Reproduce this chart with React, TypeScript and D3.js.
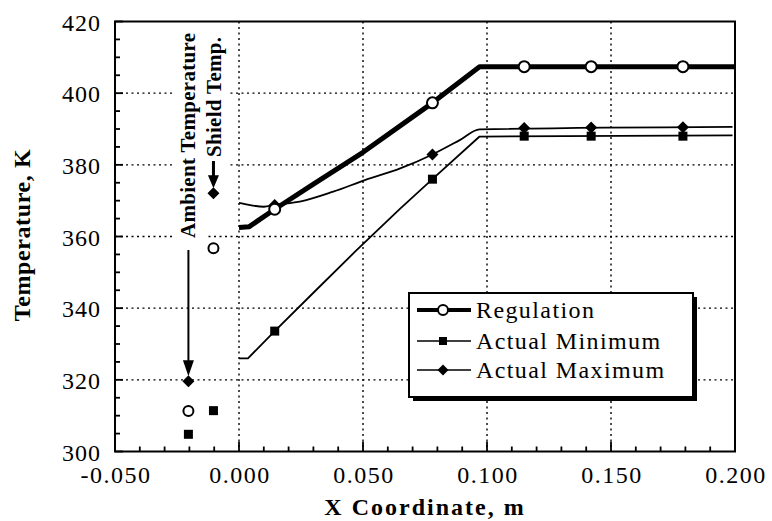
import * as d3 from 'd3';

// sensor positions along the wall (m)
const markerX = [0.0144, 0.078, 0.115, 0.142, 0.179];
const regulationMarkers = [367.6, 397.3, 407.4, 407.4, 407.4];
const minimumMarkers = [333.6, 376.0, 388.0, 388.0, 388.0];
const maximumMarkers = [368.8, 382.9, 390.3, 390.4, 390.5];

// curve traces
const regulationX = [0, 0.004, 0.0144, 0.03, 0.05, 0.078, 0.097, 0.2];
const regulationY = [362.5, 362.7, 367.6, 374.6, 383.5, 397.3, 407.4, 407.4];
const minimumX = [0, 0.0036, 0.0144, 0.03, 0.047, 0.065, 0.078, 0.097, 0.199];
const minimumY = [326, 326, 333.6, 344.3, 355.9, 367.8, 376, 387.9, 388.2];
const maximumX = [0, 0.005, 0.01, 0.0144, 0.025, 0.038, 0.051, 0.065, 0.078, 0.089, 0.097, 0.199];
const maximumY = [369.4, 368.7, 368.3, 368.8, 369.8, 372.5, 375.8, 379, 382.9, 386.9, 389.9, 390.6];

// ambient / shield readings
const ambientX = -0.0204;
const shieldX = -0.0103;
const ambientVals = { reg: 311.3, min: 304.8, max: 319.6 };
const shieldVals = { reg: 356.7, min: 311.4, max: 372.1 };

const xTicks = [-0.05, 0, 0.05, 0.1, 0.15, 0.2];
const yTicks = [300, 320, 340, 360, 380, 400, 420];
const legendLabels = ['Regulation', 'Actual Minimum', 'Actual Maximum'];

const W = 772;
const H = 521;
const font = '"Liberation Serif", "Times New Roman", serif';

const x = d3.scaleLinear().domain([-0.05, 0.2]).range([115, 735]);
const y = d3.scaleLinear().domain([300, 420]).range([451.5, 21.5]);

const Square = ({ cx, cy, s = 9 }: { cx: number; cy: number; s?: number }) => (
  <rect x={cx - s / 2} y={cy - s / 2} width={s} height={s} fill="#000" />
);
const Diamond = ({ cx, cy, s = 6 }: { cx: number; cy: number; s?: number }) => (
  <path d={`M${cx},${cy - s}L${cx + s},${cy}L${cx},${cy + s}L${cx - s},${cy}Z`} fill="#000" />
);
const Circle = ({ cx, cy, r = 5.5 }: { cx: number; cy: number; r?: number }) => (
  <circle cx={cx} cy={cy} r={r} fill="#fff" stroke="#000" strokeWidth={2} />
);

export default function App() {
  const line = d3.line<[number, number]>().x(d => x(d[0])).y(d => y(d[1]));
  const smooth = d3
    .line<[number, number]>()
    .x(d => x(d[0]))
    .y(d => y(d[1]))
    .curve(d3.curveMonotoneX);

  const regPts = regulationX.map((v, i) => [v, regulationY[i]] as [number, number]);
  const minPts = minimumX.map((v, i) => [v, minimumY[i]] as [number, number]);
  const maxPts = maximumX.map((v, i) => [v, maximumY[i]] as [number, number]);

  const minorX = d3.range(-0.05, 0.2001, 0.01);
  const minorY = d3.range(300, 420.1, 5);
  const gridX = xTicks.slice(1, -1);
  const gridY = yTicks.slice(1, -1);

  const [x0, x1] = x.range();
  const [yb, yt] = y.range();

  const ax = x(ambientX);
  const sx = x(shieldX);
  const ambTip = y(ambientVals.max) - 5;
  const shTip = y(shieldVals.max) - 5;

  const lgX = 409;
  const lgY = 293;
  const lgW = 284;
  const lgH = 104;
  const rowY = [310, 341, 370];

  return (
    <svg width={W} height={H} style={{ position: 'absolute', left: 0, top: 0, background: '#fff' }}>
      {/* grid */}
      {gridY.map(t => (
        <line key={'gy' + t} x1={x0} x2={x1} y1={y(t)} y2={y(t)} stroke="#000" strokeWidth={1.4} strokeDasharray="2,3.5" />
      ))}
      {gridX.map(t => (
        <line key={'gx' + t} x1={x(t)} x2={x(t)} y1={yt} y2={yb} stroke="#000" strokeWidth={1.4} strokeDasharray="2,3.5" />
      ))}

      {/* annotation backgrounds */}
      <rect x={ax - 16} y={yt + 3} width={33} height={225} fill="#fff" />
      <rect x={sx - 12} y={yt + 3} width={26} height={168} fill="#fff" />

      {/* series lines */}
      <path d={line(minPts) ?? ''} fill="none" stroke="#000" strokeWidth={1.8} strokeLinejoin="round" />
      <path d={smooth(maxPts) ?? ''} fill="none" stroke="#000" strokeWidth={1.8} />
      <path d={line(regPts) ?? ''} fill="none" stroke="#000" strokeWidth={5} strokeLinejoin="round" />

      {/* markers */}
      {markerX.map((v, i) => (
        <g key={'m' + i}>
          <Square cx={x(v)} cy={y(minimumMarkers[i])} />
          <Diamond cx={x(v)} cy={y(maximumMarkers[i])} />
          <Circle cx={x(v)} cy={y(regulationMarkers[i])} />
        </g>
      ))}

      {/* ambient / shield points */}
      <Square cx={ax} cy={y(ambientVals.min)} />
      <Circle cx={ax} cy={y(ambientVals.reg)} r={5} />
      <Diamond cx={ax} cy={y(ambientVals.max)} />
      <Square cx={sx} cy={y(shieldVals.min)} />
      <Circle cx={sx} cy={y(shieldVals.reg)} r={5} />
      <Diamond cx={sx} cy={y(shieldVals.max)} />

      {/* arrows */}
      <line x1={ax} x2={ax} y1={250} y2={ambTip - 12} stroke="#000" strokeWidth={2} />
      <path d={`M${ax - 5.5},${ambTip - 16}L${ax + 5.5},${ambTip - 16}L${ax},${ambTip}Z`} fill="#000" />
      <line x1={sx} x2={sx} y1={161} y2={shTip - 10} stroke="#000" strokeWidth={3} />
      <path d={`M${sx - 5.5},${shTip - 13}L${sx + 5.5},${shTip - 13}L${sx},${shTip}Z`} fill="#000" />

      <text
        transform={`translate(${ax + 7},238) rotate(-90)`}
        fontFamily={font}
        fontWeight="bold"
        fontSize={21}
        letterSpacing={0.3}
      >
        Ambient Temperature
      </text>
      <text
        transform={`translate(${sx + 8},157) rotate(-90)`}
        fontFamily={font}
        fontWeight="bold"
        fontSize={21}
        letterSpacing={0.3}
      >
        Shield Temp.
      </text>

      {/* frame */}
      <rect x={x0} y={yt} width={x1 - x0} height={yb - yt} fill="none" stroke="#000" strokeWidth={2} />

      {/* minor / major ticks */}
      {minorX.map((t, i) => (
        <line key={'tx' + i} x1={x(t)} x2={x(t)} y1={yb} y2={yb - (i % 5 === 0 ? 10 : 5)} stroke="#000" strokeWidth={1.8} />
      ))}
      {minorY.map((t, i) => (
        <line key={'ty' + i} x1={x0} x2={x0 + (i % 4 === 0 ? 8 : 5)} y1={y(t)} y2={y(t)} stroke="#000" strokeWidth={1.8} />
      ))}

      {/* tick labels */}
      {xTicks.map(t => (
        <text key={'lx' + t} x={x(t) + 1} y={483} textAnchor="middle" fontFamily={font} fontSize={24} letterSpacing={1.5}>
          {t.toFixed(3)}
        </text>
      ))}
      {yTicks.map(t => (
        <text key={'ly' + t} x={101} y={y(t) + 9} textAnchor="end" fontFamily={font} fontSize={24} letterSpacing={1}>
          {t}
        </text>
      ))}

      {/* axis titles */}
      <text x={425} y={515} textAnchor="middle" fontFamily={font} fontWeight="bold" fontSize={24} letterSpacing={2}>
        X Coordinate, m
      </text>
      <text
        transform="translate(30,235) rotate(-90)"
        textAnchor="middle"
        fontFamily={font}
        fontWeight="bold"
        fontSize={24}
        letterSpacing={0.6}
      >
        Temperature, K
      </text>

      {/* legend */}
      <rect x={lgX + 4} y={lgY + 4} width={lgW} height={lgH} fill="#000" />
      <rect x={lgX} y={lgY} width={lgW} height={lgH} fill="#fff" stroke="#000" strokeWidth={2} />
      {legendLabels.map((label, i) => {
        const cy = rowY[i];
        return (
          <g key={label}>
            <line x1={lgX + 8} x2={lgX + 62} y1={cy} y2={cy} stroke="#000" strokeWidth={i === 0 ? 4 : 1.6} />
            {i === 0 && <Circle cx={lgX + 34} cy={cy} r={5} />}
            {i === 1 && <Square cx={lgX + 34} cy={cy} s={8} />}
            {i === 2 && <Diamond cx={lgX + 34} cy={cy} s={5.5} />}
            <text x={lgX + 67} y={cy + 8} fontFamily={font} fontSize={24} letterSpacing={1.4}>
              {label}
            </text>
          </g>
        );
      })}
    </svg>
  );
}
